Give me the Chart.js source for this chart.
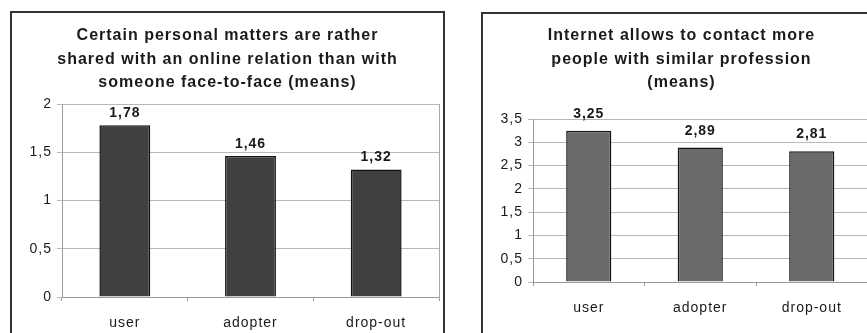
<!DOCTYPE html>
<html>
<head>
<meta charset="utf-8">
<script src="https://cdn.jsdelivr.net/npm/chart.js@4/dist/chart.umd.min.js"></script>
<style>
  html, body { margin: 0; padding: 0; background: #fff; overflow: hidden; }
  body { width: 867px; height: 333px; position: relative; }
  .box { position: absolute; border: 2px solid #333; box-sizing: border-box; }
  #boxA { left: 10px; top: 11px; width: 435px; height: 400px; }
  #boxB { left: 481px; top: 12px; width: 500px; height: 400px; }
  canvas { position: absolute; }
  #chartA { left: 0; top: 0; }
  #chartB { left: 470px; top: 0; }
</style>
</head>
<body>
<div class="box" id="boxA"></div>
<div class="box" id="boxB"></div>
<canvas id="chartA" width="455" height="333" style="width:455px;height:333px"></canvas>
<canvas id="chartB" width="423" height="333" style="width:423px;height:333px"></canvas>
<script>
// Respondent groups shared by both charts
const groups = ['user', 'adopter', 'drop-out'];

// Mean agreement scores
const sharedPersonalMatters = [1.78, 1.46, 1.32];
const contactSimilarProfession = [3.25, 2.89, 2.81];

// Chart titles (one entry per line)
const titleA = [
  'Certain personal matters are rather',
  'shared with an online relation than with',
  'someone face-to-face (means)'
];
const titleB = [
  'Internet allows to contact more',
  'people with similar profession',
  '(means)'
];

const FONT = "'Liberation Sans', Arial, Helvetica, sans-serif";
const comma = v => String(v).replace('.', ',');

// Slightly loose letter spacing for every text drawn on the canvas
const spacing = {
  id: 'spacing',
  beforeUpdate(chart) { chart.ctx.letterSpacing = '1px'; },
  beforeDraw(chart) { chart.ctx.letterSpacing = '1px'; }
};

// Bold value labels above the bars
const valueLabels = {
  id: 'valueLabels',
  afterDatasetsDraw(chart, args, opts) {
    const ctx = chart.ctx;
    const meta = chart.getDatasetMeta(0);
    const data = chart.data.datasets[0].data;
    ctx.save();
    ctx.font = 'bold 14px ' + FONT;
    ctx.fillStyle = '#1a1a1a';
    ctx.textAlign = 'center';
    ctx.textBaseline = 'middle';
    meta.data.forEach((bar, i) => {
      ctx.fillText(data[i].toFixed(2).replace('.', ','), bar.x, bar.y - opts.offset);
    });
    ctx.restore();
  }
};

function makeChart(id, values, title, yMax, fill, cfg) {
  return new Chart(document.getElementById(id), {
    type: 'bar',
    data: {
      labels: groups,
      datasets: [{
        data: values,
        yAxisID: 'y',
        backgroundColor: fill,
        borderColor: '#151515',
        borderWidth: 1.5,
        categoryPercentage: 1,
        barPercentage: 0.405
      }]
    },
    plugins: [spacing, valueLabels],
    options: {
      responsive: false,
      animation: false,
      events: [],
      layout: { padding: 0 },
      plugins: {
        legend: { display: false },
        tooltip: { enabled: false },
        title: {
          display: true,
          text: title,
          color: '#1a1a1a',
          font: { family: FONT, size: 16, weight: 'bold', lineHeight: '23.5px' },
          padding: { top: 24, bottom: cfg.titleBottom }
        },
        valueLabels: { offset: cfg.labelOffset }
      },
      scales: {
        x: {
          grid: { display: true, drawOnChartArea: false, offset: true, tickLength: 4, color: '#9a9a9a' },
          border: { display: true, color: '#9a9a9a' },
          ticks: { color: '#1a1a1a', font: { family: FONT, size: 14 }, padding: 14 },
          afterFit: s => { s.height = cfg.xHeight; }
        },
        y: {
          min: 0,
          max: yMax,
          ticks: {
            stepSize: 0.5,
            color: '#1a1a1a',
            font: { family: FONT, size: 14 },
            padding: 5,
            callback: v => comma(v)
          },
          grid: { color: '#b8b8b8', tickLength: 5, lineWidth: 1 },
          border: { display: true, color: '#9a9a9a' },
          afterFit: s => { s.width = cfg.yWidth; }
        },
        // right edge of the plot frame
        y2: {
          position: 'right',
          min: 0,
          max: yMax,
          ticks: { display: false },
          grid: { display: false },
          border: { display: true, color: '#a8a8a8' },
          afterFit: s => { s.width = cfg.rightGap; }
        }
      }
    }
  });
}

makeChart('chartA', sharedPersonalMatters, titleA, 2, '#404040',
  { titleBottom: 9.5, xHeight: 36, yWidth: 62, rightGap: 16, labelOffset: 12 });
makeChart('chartB', contactSimilarProfession, titleB, 3.5, '#6b6b6b',
  { titleBottom: 24.5, xHeight: 51, yWidth: 63, rightGap: 25.5, labelOffset: 16.5 });
</script>
</body>
</html>
